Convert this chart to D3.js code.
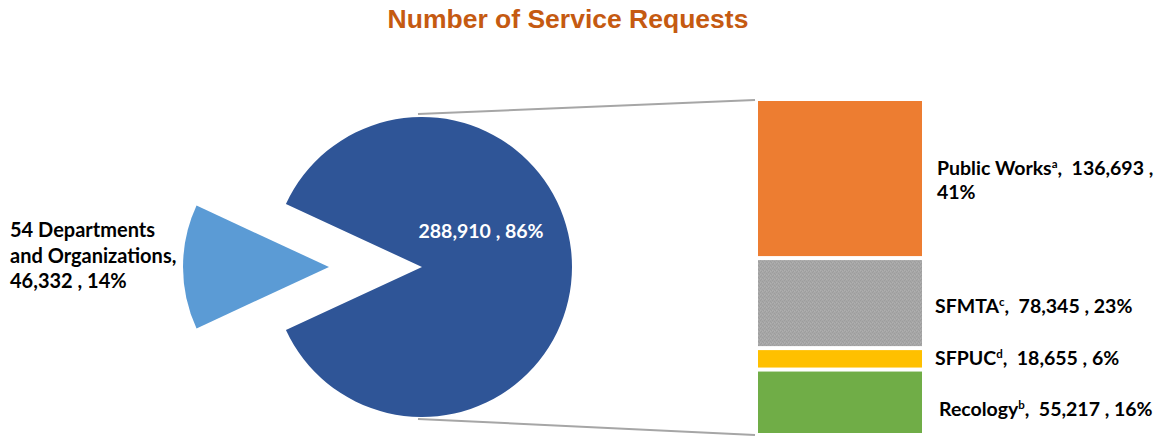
<!DOCTYPE html>
<html>
<head>
<meta charset="utf-8">
<script src="https://cdn.jsdelivr.net/npm/d3@7"></script>
<style>
  html, body { margin: 0; padding: 0; background: #fff; }
  svg { display: block; }
  text { white-space: pre; }
</style>
</head>
<body>
<script>
// ---- Data ----
const title = "Number of Service Requests";
const pieCategories = ["Four Departments", "54 Departments and Organizations"];
const pieValues = [288910, 46332];
const piePercents = ["86%", "14%"];

const barCategories = ["Public Works", "SFMTA", "SFPUC", "Recology"];
const barSuperscripts = ["a", "c", "d", "b"];
const barValues = [136693, 78345, 18655, 55217];
const barPercents = ["41%", "23%", "6%", "16%"];

// ---- Layout ----
const W = 1159, H = 436;
const pieColors = ["#2F5597", "#5B9BD5"];
const barColors = ["#ED7D31", "url(#grayTex)", "#FFC000", "#70AD47"];
const fontLabel = "Lato, 'Open Sans', sans-serif";
const fs = 19.5;

const svg = d3.select("body").append("svg").attr("width", W).attr("height", H);

// texture for gray segment
const defs = svg.append("defs");
const pat = defs.append("pattern").attr("id", "grayTex")
  .attr("patternUnits", "userSpaceOnUse").attr("width", 4).attr("height", 4);
pat.append("rect").attr("width", 4).attr("height", 4).attr("fill", "#A7A7A7");
[[0,0],[2,1],[1,3],[3,2]].forEach(([x,y]) =>
  pat.append("rect").attr("x", x).attr("y", y).attr("width", 1).attr("height", 1).attr("fill", "#9D9D9D"));
[[2,3],[0,2]].forEach(([x,y]) =>
  pat.append("rect").attr("x", x).attr("y", y).attr("width", 1).attr("height", 1).attr("fill", "#B0B0B0"));

// Title
svg.append("text")
  .attr("x", 568).attr("y", 28)
  .attr("text-anchor", "middle")
  .attr("font-family", "'Liberation Sans', Arial, sans-serif")
  .attr("font-weight", "bold").attr("font-size", 26.5)
  .attr("fill", "#C55A11")
  .text(title);

// ---- Pie ----
const cx = 422, cy = 267;
const total = d3.sum(pieValues);
const half = Math.PI * 2 * pieValues[1] / total / 2;
const pie = d3.pie().sort(null)
  .startAngle(1.5 * Math.PI + half)
  .endAngle(1.5 * Math.PI + half + 2 * Math.PI);
const arcs = pie(pieValues);
const radii = [150, 146];
const explode = 93;

const pieG = svg.append("g").attr("transform", `translate(${cx},${cy})`);

// connector lines (drawn first)
const yBar = d3.scaleLinear().domain([0, d3.sum(barValues)]).range([101, 433]);
const barX0 = 758, barX1 = 922;
svg.append("line")
  .attr("x1", cx - 4).attr("y1", cy - radii[0] - 3)
  .attr("x2", 755).attr("y2", yBar(0) - 1)
  .attr("stroke", "#A6A6A6").attr("stroke-width", 2);
svg.append("line")
  .attr("x1", cx - 4).attr("y1", cy + radii[0] + 2)
  .attr("x2", 755).attr("y2", yBar(d3.sum(barValues)) + 2)
  .attr("stroke", "#A6A6A6").attr("stroke-width", 2);

arcs.forEach((a, i) => {
  const arc = d3.arc().innerRadius(0).outerRadius(radii[i]);
  let tx = 0, ty = 0;
  if (i === 1) {
    const mid = (a.startAngle + a.endAngle) / 2;
    tx = Math.sin(mid) * explode;
    ty = -Math.cos(mid) * explode;
  }
  pieG.append("path")
    .attr("d", arc(a))
    .attr("transform", `translate(${tx},${ty})`)
    .attr("fill", pieColors[i]);
});

// pie labels
const fmt = d3.format(",");
svg.append("text")
  .attr("x", 481).attr("y", 238)
  .attr("text-anchor", "middle")
  .attr("font-family", fontLabel).attr("font-weight", "bold").attr("font-size", fs)
  .attr("fill", "#fff")
  .text(`${fmt(pieValues[0])} , ${piePercents[0]}`);

const leftLines = ["54 Departments", "and Organizations,", `${fmt(pieValues[1])} , ${piePercents[1]}`];
const lt = svg.append("text")
  .attr("font-family", fontLabel).attr("font-weight", "bold").attr("font-size", 20)
  .attr("fill", "#000");
leftLines.forEach((s, i) => {
  lt.append("tspan").attr("x", 10).attr("y", 237 + i * 25.5).text(s);
});

// ---- Stacked bar ----
let cum = 0;
const segs = barValues.map((v, i) => {
  const s = { i, y0: cum, y1: cum + v };
  cum += v;
  return s;
});
const gap = 2;
segs.forEach(s => {
  const top = yBar(s.y0) + (s.i === 0 ? 0 : gap);
  const bot = yBar(s.y1) - (s.i === segs.length - 1 ? 0 : gap);
  svg.append("rect")
    .attr("x", barX0).attr("y", top)
    .attr("width", barX1 - barX0).attr("height", bot - top)
    .attr("fill", barColors[s.i]);
});

// bar labels
const labelDy = [-4.5, 10, 6, 15];
const labelDx = [937, 935, 935, 939];
segs.forEach(s => {
  const mid = (yBar(s.y0) + yBar(s.y1)) / 2;
  const t = svg.append("text")
    .attr("font-family", fontLabel).attr("font-weight", "bold").attr("font-size", fs)
    .attr("fill", "#000");
  const line1 = t.append("tspan").attr("x", labelDx[s.i]).attr("y", mid + labelDy[s.i]);
  line1.append("tspan").text(barCategories[s.i]);
  line1.append("tspan").attr("font-size", 11.5).attr("dy", -7).text(barSuperscripts[s.i]);
  if (s.i === 0) {
    line1.append("tspan").attr("dy", 7).text(`,  ${fmt(barValues[s.i])} ,`);
    t.append("tspan").attr("x", labelDx[s.i]).attr("y", mid + labelDy[s.i] + 24).text(barPercents[s.i]);
  } else {
    line1.append("tspan").attr("dy", 7).text(`,  ${fmt(barValues[s.i])} , ${barPercents[s.i]}`);
  }
});
</script>
</body>
</html>
